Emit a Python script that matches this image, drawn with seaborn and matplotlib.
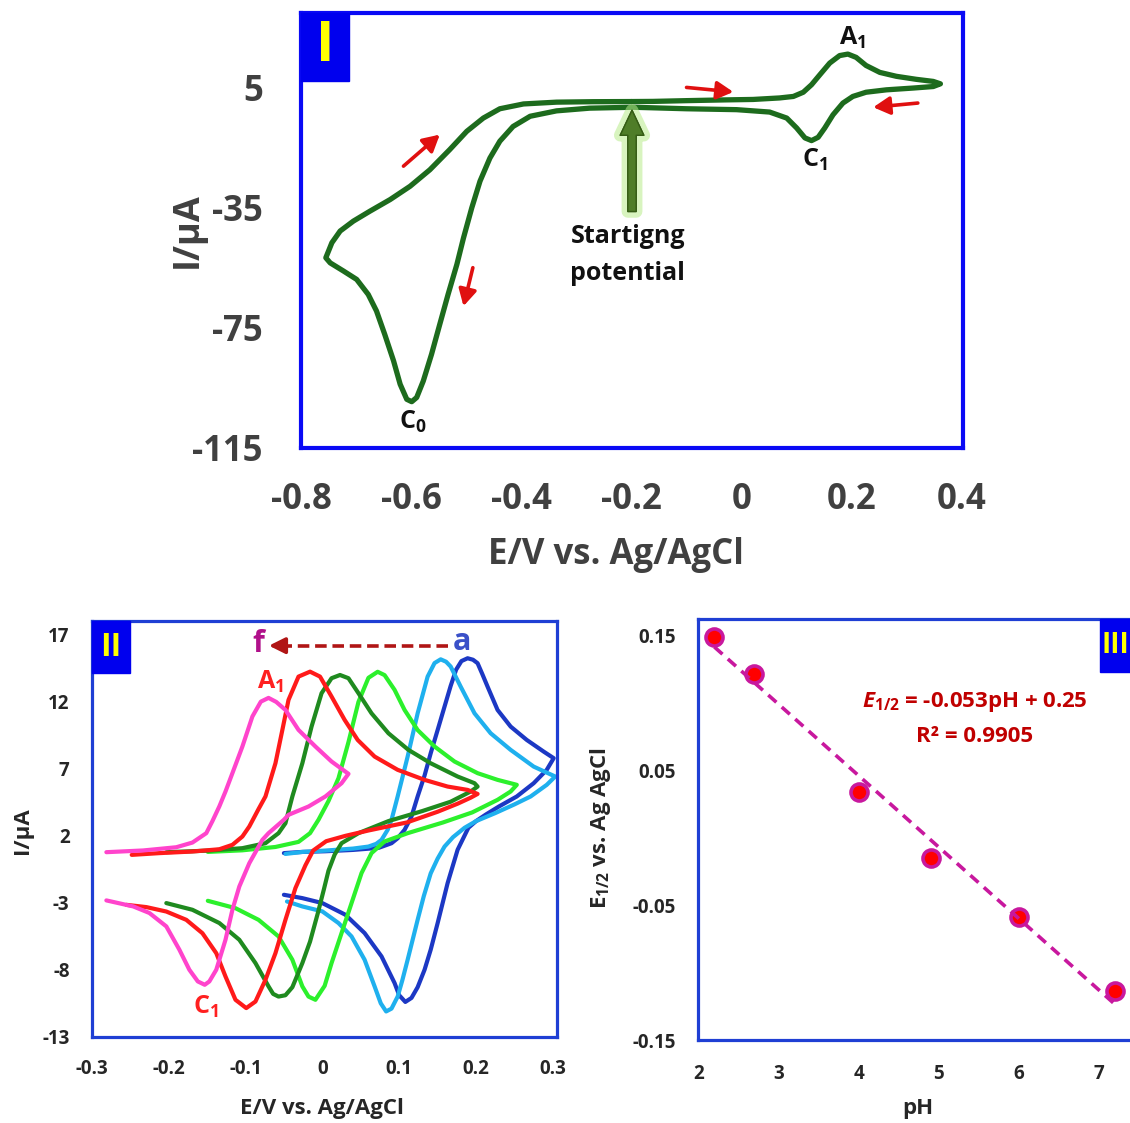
import numpy as np
import pandas as pd
import matplotlib
matplotlib.use("Agg")
import matplotlib.pyplot as plt
import matplotlib.patheffects as pe
from matplotlib.patches import Rectangle
import seaborn as sns

# ---------------- data ----------------
# Panel I : full CV (starting at -0.2 V, forward scan first)
cv1_E = [-0.200, -0.161, -0.100, -0.030, 0.021, 0.069, 0.094, 0.112, 0.127, 0.142,
         0.160, 0.178, 0.193, 0.208, 0.226, 0.251, 0.281, 0.317, 0.348, 0.361,
         0.348, 0.312, 0.263, 0.226, 0.202, 0.184, 0.166, 0.151, 0.139, 0.127,
         0.115, 0.100, 0.082, 0.051, -0.009, -0.100, -0.197,
         -0.276, -0.336, -0.384, -0.415, -0.439, -0.457, -0.475, -0.490, -0.505, -0.517,
         -0.533, -0.548, -0.563, -0.578, -0.590, -0.599, -0.608, -0.620, -0.632, -0.648,
         -0.663, -0.678, -0.699, -0.723, -0.747, -0.755,
         -0.744, -0.729, -0.705, -0.675, -0.638, -0.602, -0.566, -0.530, -0.499, -0.469,
         -0.439, -0.396, -0.336, -0.270, -0.200]
cv1_I = [0.3, 0.35, 0.6, 0.85, 1.0, 1.5, 2.0, 3.4, 5.9, 9.2,
         13.1, 15.6, 16.1, 15.0, 12.3, 10.0, 8.7, 7.7, 7.0, 6.2,
         5.3, 4.8, 4.2, 3.4, 2.0, -0.2, -4.1, -8.5, -11.6, -12.7,
         -11.8, -8.5, -5.2, -3.2, -2.4, -2.1, -1.6,
         -1.9, -2.8, -4.6, -8.0, -12.9, -18.5, -26.2, -35.1, -45.1, -53.9,
         -63.9, -73.8, -83.8, -92.7, -98.2, -99.6, -98.8, -93.8, -86.0, -77.2,
         -69.4, -63.9, -58.9, -56.1, -53.4, -51.7,
         -46.7, -42.8, -39.5, -36.2, -32.3, -27.9, -22.4, -15.7, -9.6, -5.2,
         -2.1, -0.5, 0.1, 0.25, 0.3]

# Panel II : CVs a..f
a_E = [-0.050, -0.026, 0.004, 0.040, 0.073, 0.090, 0.098, 0.107, 0.116, 0.124,
       0.133, 0.141, 0.150, 0.159, 0.167, 0.174, 0.181, 0.189, 0.196, 0.202,
       0.208, 0.215, 0.228, 0.245, 0.266, 0.288, 0.301,
       0.292, 0.275, 0.253, 0.230, 0.213, 0.200, 0.190, 0.176, 0.163, 0.150,
       0.141, 0.133, 0.124, 0.116, 0.108, 0.100, 0.094, 0.077, 0.055, 0.030,
       0.000, -0.026, -0.050]
a_I = [0.71, 0.80, 0.85, 0.95, 1.10, 1.45, 1.82, 2.45, 3.44, 4.94,
       6.5, 8.17, 9.9, 11.65, 13.2, 14.4, 15.05, 15.26, 15.15, 14.89,
       14.1, 13.14, 11.40, 10.16, 9.16, 8.29, 7.80,
       6.93, 5.93, 4.94, 4.2, 3.6, 3.1, 2.6, 0.96, -1.53, -4.52,
       -6.5, -8.0, -9.3, -10.1, -10.4, -9.9, -8.99, -7.00, -5.26, -3.89,
       -3.02, -2.65, -2.40]

b_E = [-0.048, -0.026, 0.004, 0.040, 0.060, 0.070, 0.077, 0.085, 0.090, 0.098,
       0.111, 0.124, 0.137, 0.146, 0.154, 0.161, 0.167, 0.180, 0.198, 0.219,
       0.245, 0.275, 0.303,
       0.292, 0.271, 0.250, 0.225, 0.200, 0.185, 0.170, 0.159, 0.150, 0.141,
       0.132, 0.124, 0.111, 0.104, 0.098, 0.090, 0.083, 0.076, 0.068, 0.055,
       0.038, 0.021, 0.000, -0.026, -0.046]
b_I = [0.65, 0.80, 0.90, 1.05, 1.20, 1.40, 1.70, 2.45, 3.19, 4.94,
       7.92, 11.15, 13.89, 14.9, 15.18, 15.0, 14.64, 13.14, 11.15, 9.66,
       8.42, 7.17, 6.43,
       5.81, 4.94, 4.35, 3.7, 3.1, 2.6, 1.9, 1.2, 0.3, -0.8,
       -2.5, -4.27, -7.25, -8.8, -10.0, -10.9, -11.11, -10.5, -9.24, -7.25,
       -5.51, -4.51, -3.64, -3.27, -2.90]

c_E = [-0.149, -0.104, -0.061, -0.031, -0.016, -0.005, 0.008, 0.021, 0.034, 0.047,
       0.060, 0.072, 0.081, 0.094, 0.107, 0.124, 0.146, 0.172, 0.202, 0.228,
       0.253,
       0.245, 0.228, 0.195, 0.157, 0.111, 0.081, 0.064, 0.051, 0.038, 0.025,
       0.012, 0.003, -0.009, -0.018, -0.026, -0.039, -0.057, -0.083, -0.113, -0.149]
c_I = [0.80, 0.92, 1.17, 1.55, 2.2, 3.2, 4.6, 6.3, 9.0, 12.0,
       13.8, 14.25, 14.0, 12.9, 11.4, 9.9, 8.67, 7.55, 6.68, 6.18,
       5.81,
       5.31, 4.69, 3.75, 3.0, 2.2, 1.58, 0.71, -0.78, -3.02, -5.26,
       -7.50, -9.2, -10.24, -10.0, -9.24, -7.25, -5.51, -4.27, -3.40, -2.85]

d_E = [-0.203, -0.147, -0.104, -0.074, -0.057, -0.048, -0.039, -0.026, -0.014, -0.001,
       0.012, 0.023, 0.034, 0.047, 0.064, 0.086, 0.112, 0.141, 0.176, 0.198,
       0.202,
       0.193, 0.167, 0.130, 0.086, 0.047, 0.025, 0.016, 0.008, 0.002, -0.006,
       -0.016, -0.026, -0.039, -0.048, -0.057, -0.064, -0.070, -0.087, -0.108, -0.134,
       -0.169, -0.203]
d_I = [0.78, 0.90, 1.08, 1.45, 2.20, 2.94, 4.94, 7.42, 10.16, 12.65,
       13.77, 14.01, 13.77, 12.65, 11.15, 9.66, 8.42, 7.42, 6.43, 5.93,
       5.68,
       5.31, 4.55, 3.85, 3.1, 2.2, 1.45, 0.6, -0.6, -2.0, -3.8,
       -5.9, -7.5, -9.3, -9.9, -10.0, -9.8, -9.24, -7.50, -5.76, -4.51,
       -3.52, -3.02]

e_E = [-0.248, -0.212, -0.169, -0.134, -0.117, -0.104, -0.095, -0.083, -0.074, -0.061,
       -0.052, -0.044, -0.031, -0.016, -0.003, 0.012, 0.029, 0.046, 0.068, 0.098,
       0.133, 0.163, 0.189, 0.202,
       0.193, 0.176, 0.150, 0.110, 0.060, 0.030, 0.005, -0.012, -0.022, -0.035,
       -0.048, -0.061, -0.074, -0.087, -0.099, -0.113, -0.126, -0.138, -0.156, -0.177,
       -0.203, -0.229, -0.255]
e_I = [0.58, 0.71, 0.83, 1.00, 1.33, 1.95, 2.70, 4.0, 4.94, 7.42,
       9.91, 12.15, 13.89, 14.26, 13.89, 12.40, 10.66, 9.16, 7.92, 6.93,
       6.18, 5.68, 5.43, 5.13,
       4.85, 4.4, 3.8, 3.0, 2.4, 2.0, 1.6, 0.9, -0.2, -1.9,
       -4.27, -6.76, -8.75, -10.37, -10.86, -10.24, -8.50, -6.76, -5.27, -4.27,
       -3.65, -3.32, -3.15]

f_E = [-0.281, -0.233, -0.190, -0.169, -0.151, -0.143, -0.134, -0.126, -0.117, -0.104,
       -0.091, -0.080, -0.070, -0.060, -0.048, -0.031, -0.009, 0.012, 0.034,
       0.025, 0.004, -0.018, -0.044, -0.050, -0.060, -0.070, -0.078, -0.095, -0.108,
       -0.117, -0.126, -0.138, -0.147, -0.153, -0.162, -0.173, -0.186, -0.203, -0.225,
       -0.246, -0.281]
f_I = [0.78, 0.91, 1.15, 1.50, 2.20, 3.1, 4.2, 5.31, 6.68, 8.67,
       10.91, 12.02, 12.3, 12.0, 11.40, 9.91, 8.67, 7.55, 6.63,
       5.93, 4.94, 4.19, 3.57, 3.2, 2.7, 2.2, 1.70, -0.04, -1.78,
       -3.52, -5.76, -8.00, -8.87, -9.12, -8.87, -8.00, -6.50, -4.76, -3.76,
       -3.27, -2.82]

curve_names = ["a", "b", "c", "d", "e", "f"]
curve_colors = ["#1c38c4", "#1fb0ee", "#2cf02c", "#1f8a1f", "#ff1a1a", "#ff44cc"]

# Panel III : E1/2 vs pH
pH = [2.2, 2.7, 4.0, 4.9, 6.0, 7.2]
E_half = [0.149, 0.121, 0.034, -0.015, -0.059, -0.114]

# ticks
p1_xticks = [-0.8, -0.6, -0.4, -0.2, 0.0, 0.2, 0.4]
p1_xlabels = ["-0.8", "-0.6", "-0.4", "-0.2", "0", "0.2", "0.4"]
p1_yticks = [5, -35, -75, -115]
p2_xticks = [-0.3, -0.2, -0.1, 0.0, 0.1, 0.2, 0.3]
p2_xlabels = ["-0.3", "-0.2", "-0.1", "0", "0.1", "0.2", "0.3"]
p2_yticks = [17, 12, 7, 2, -3, -8, -13]
p3_xticks = [2, 3, 4, 5, 6, 7]
p3_yticks = [0.15, 0.05, -0.05, -0.15]
p3_ylabels = ["0.15", "0.05", "-0.05", "-0.15"]

# ---------------- style ----------------
sns.set_theme(style="white")
plt.rcParams['font.family'] = ['Open Sans', 'DejaVu Sans']
plt.rcParams['font.weight'] = 'bold'
plt.rcParams['axes.labelweight'] = 'bold'
plt.rcParams['axes.unicode_minus'] = False
plt.rcParams['mathtext.fontset'] = 'custom'
plt.rcParams['mathtext.rm'] = 'Open Sans:bold'
plt.rcParams['mathtext.it'] = 'Open Sans:italic:bold'
plt.rcParams['mathtext.bf'] = 'Open Sans:bold'

BLUE1 = "#0a0af5"
BLUE2 = "#1f3fd4"
GRAY = "#404040"
DARK = "#262626"

fig = plt.figure(figsize=(11.3, 11.23), dpi=100)
ax1 = fig.add_axes([0.2664, 0.6011, 0.5858, 0.3874])
ax2 = fig.add_axes([0.0812, 0.0768, 0.4115, 0.3702])
ax3 = fig.add_axes([0.618, 0.0739, 0.3873, 0.3749])

# ---------------- panel I ----------------
sns.lineplot(x=cv1_E, y=cv1_I, sort=False, estimator=None, color="#1d6b1d",
             lw=3.8, ax=ax1)
ax1.set_xlim(-0.8, 0.402)
ax1.set_ylim(-115, 29.8)
ax1.set_xticks(p1_xticks)
ax1.set_xticklabels(p1_xlabels)
ax1.set_yticks(p1_yticks)
ax1.set_yticklabels([str(v) for v in p1_yticks])
for s in ax1.spines.values():
    s.set_color(BLUE1)
    s.set_linewidth(3.0)
ax1.tick_params(axis='both', direction='out', length=8.5, width=2.4, color=BLUE1,
                labelsize=25, labelcolor=GRAY)
ax1.tick_params(axis='x', pad=16)
ax1.tick_params(axis='y', pad=19)
ax1.set_xlabel("E/V vs. Ag/AgCl", fontsize=25, color=GRAY, va='center')
ax1.set_ylabel("I/µA", fontsize=26, color=GRAY, va='center')
ax1.xaxis.set_label_coords(0.476, -0.245)
ax1.yaxis.set_label_coords(-0.171, 0.50)

ax1.add_patch(Rectangle((0, 0.844), 0.0725, 0.156, transform=ax1.transAxes,
                        color="#0000ee", clip_on=False, zorder=5))
ax1.text(0.036, 0.922, "I", transform=ax1.transAxes, ha='center', va='center',
         fontsize=40, color="#ffff00", zorder=6)

ax1.text(0.202, 21.5, r"A$_{\mathregular{1}}$", ha='center', va='center', fontsize=18, color="#111111")
ax1.text(0.133, -19.0, r"C$_{\mathregular{1}}$", ha='center', va='center', fontsize=18, color="#111111")
ax1.text(-0.597, -106.4, r"C$_{\mathregular{0}}$", ha='center', va='center', fontsize=18, color="#111111")
ax1.text(-0.207, -44.6, "Startigng", ha='center', va='center', fontsize=18, color="#111111")
ax1.text(-0.207, -56.9, "potential", ha='center', va='center', fontsize=18, color="#111111")

red_arrows = [((-0.614, -21.2), (-0.548, -10.7)),
              ((-0.488, -55.0), (-0.505, -67.8)),
              ((-0.100, 5.0), (-0.015, 3.5)),
              ((0.320, -0.2), (0.239, -1.6))]
for tail, tip in red_arrows:
    ax1.annotate("", xy=tip, xytext=tail,
                 arrowprops=dict(arrowstyle="-|>,head_length=0.55,head_width=0.3",
                                 color="#e01010", lw=2.6, mutation_scale=18,
                                 shrinkA=0, shrinkB=0))
ax1.annotate("", xy=(-0.199, -2.6), xytext=(-0.199, -36.3),
             arrowprops=dict(arrowstyle="simple,head_length=1.8,head_width=1.7,tail_width=0.6",
                             fc="#4f7d28", ec="#355c15", lw=1, mutation_scale=10,
                             shrinkA=0, shrinkB=0,
                             path_effects=[pe.withStroke(linewidth=9, foreground="#b8ec8c", alpha=0.55),
                                           pe.Normal()]))

# ---------------- panel II ----------------
all_E = [a_E, b_E, c_E, d_E, e_E, f_E]
all_I = [a_I, b_I, c_I, d_I, e_I, f_I]
for E, I, col in zip(all_E, all_I, curve_colors):
    sns.lineplot(x=E, y=I, sort=False, estimator=None, color=col, lw=3.0, ax=ax2)
ax2.set_xlim(-0.3, 0.305)
ax2.set_ylim(-13, 18.04)
ax2.set_xticks(p2_xticks)
ax2.set_xticklabels(p2_xlabels)
ax2.set_yticks(p2_yticks)
ax2.set_yticklabels([str(v) for v in p2_yticks])
for s in ax2.spines.values():
    s.set_color(BLUE2)
    s.set_linewidth(2.3)
ax2.tick_params(axis='both', direction='out', length=6, width=2.0, color=BLUE2,
                labelsize=13.5, labelcolor=DARK)
ax2.tick_params(axis='x', pad=10)
ax2.tick_params(axis='y', pad=10)
ax2.set_xlabel("E/V vs. Ag/AgCl", fontsize=16, color=DARK, va='center')
ax2.set_ylabel("I/µA", fontsize=16, color=DARK, va='center')
ax2.xaxis.set_label_coords(0.495, -0.172)
ax2.yaxis.set_label_coords(-0.150, 0.497)

ax2.add_patch(Rectangle((0, 0.875), 0.0817, 0.125, transform=ax2.transAxes,
                        color="#0000ee", clip_on=False, zorder=5))
ax2.text(0.041, 0.937, "II", transform=ax2.transAxes, ha='center', va='center',
         fontsize=23, color="#ffff00", zorder=6)

ax2.plot([0.163, -0.060], [16.2, 16.2], ls=(0, (3.2, 1.6)), color="#b01515", lw=2.6)
ax2.annotate("", xy=(-0.0695, 16.2), xytext=(-0.055, 16.2),
             arrowprops=dict(arrowstyle="-|>,head_length=0.6,head_width=0.3",
                             color="#b01515", lw=2.6, mutation_scale=16,
                             shrinkA=0, shrinkB=0))
ax2.text(-0.0837, 16.35, "f", ha='center', va='center', fontsize=22, color="#b0108a")
ax2.text(0.181, 16.45, "a", ha='center', va='center', fontsize=22, color="#3a50c8")
ax2.text(-0.0678, 13.5, r"A$_{\mathregular{1}}$", ha='center', va='center', fontsize=18, color="#ff2020")
ax2.text(-0.152, -10.8, r"C$_{\mathregular{1}}$", ha='center', va='center', fontsize=18, color="#ff2020")

# ---------------- panel III ----------------
sns.regplot(x=pH, y=E_half, ci=None, scatter=False, truncate=True, ax=ax3,
            line_kws=dict(color="#c8189e", ls=(0, (3, 2)), lw=2.6, zorder=4))
sns.scatterplot(x=pH, y=E_half, s=150, color="#ff0000", edgecolor="#c8189e",
                linewidth=2.6, ax=ax3, zorder=3)
ax3.set_xlim(2, 7.457)
ax3.set_ylim(-0.15, 0.162)
ax3.set_xticks(p3_xticks)
ax3.set_xticklabels([str(v) for v in p3_xticks])
ax3.set_yticks(p3_yticks)
ax3.set_yticklabels(p3_ylabels)
for s in ax3.spines.values():
    s.set_color(BLUE2)
    s.set_linewidth(2.3)
ax3.tick_params(axis='both', direction='out', length=6, width=2.0, color=BLUE2,
                labelsize=13.5, labelcolor=DARK)
ax3.tick_params(axis='x', pad=11)
ax3.tick_params(axis='y', pad=10)
ax3.set_xlabel("pH", fontsize=16, color=DARK, va='center')
ax3.set_ylabel(r"E$_{\mathregular{1/2}}$ vs. Ag AgCl", fontsize=16, color=DARK, va='center')
ax3.xaxis.set_label_coords(0.502, -0.1615)
ax3.yaxis.set_label_coords(-0.2246, 0.5036)

ax3.add_patch(Rectangle((0.918, 0.874), 0.2, 0.126, transform=ax3.transAxes,
                        color="#0000ee", clip_on=False, zorder=5))
ax3.text(0.922, 0.937, "III", transform=ax3.transAxes, ha='left', va='center',
         fontsize=20, color="#ffff00", zorder=6)

ax3.text(5.45, 0.1006, r"$\it{E}$$_{\mathregular{1/2}}$ = -0.053pH + 0.25", ha='center', va='center',
         fontsize=16, color="#c00000")
ax3.text(5.45, 0.0747, "R² = 0.9905", ha='center', va='center', fontsize=16, color="#c00000")

fig.savefig("out.png", dpi=100)
